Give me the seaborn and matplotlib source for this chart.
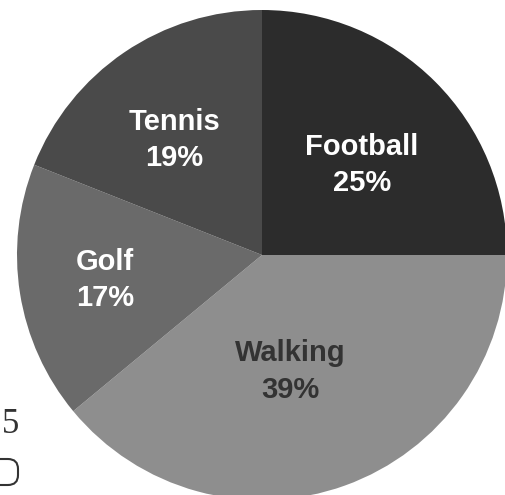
import numpy as np
import matplotlib
matplotlib.use("Agg")
import matplotlib.pyplot as plt
import seaborn as sns
from matplotlib.patches import FancyBboxPatch

# Data
sports = ["Football", "Walking", "Golf", "Tennis"]
shares = [25, 39, 17, 19]
colors = ["#2c2c2c", "#8e8e8e", "#6a6a6a", "#4a4a4a"]
text_colors = ["white", "#333333", "white", "white"]
label_radius = [0.55, 0.49, 0.65, 0.59]
label_shift = [-3, -6, 0, 3]  # degrees

sns.set_theme(style="white")
plt.rcParams["font.family"] = ["Liberation Sans", "DejaVu Sans"]

W, H = 506, 495
cx, cy, r = 262, 255, 245

fig = plt.figure(figsize=(W / 100, H / 100), dpi=100)
ax = fig.add_axes([0, 0, 1, 1])

wedges, _ = ax.pie(shares, colors=colors, startangle=90, counterclock=False,
                   radius=1, wedgeprops=dict(linewidth=0))

ax.set_xlim(-cx / r, (W - cx) / r)
ax.set_ylim(-(H - cy) / r, cy / r)
ax.set_aspect("equal", adjustable="datalim")
ax.axis("off")

for w, name, pct, tc, lr, sh in zip(wedges, sports, shares, text_colors,
                                    label_radius, label_shift):
    mid = np.deg2rad((w.theta1 + w.theta2) / 2 + sh)
    ax.text(lr * np.cos(mid), lr * np.sin(mid), f"{name}\n{pct}%",
            ha="center", va="center", color=tc, fontsize=21,
            fontweight="bold", linespacing=1.38)

# stray page marks from the scan
fig.text(2 / W, 1 - 433 / H, "5", family="Liberation Serif", fontsize=25,
         color="#333333", ha="left", va="baseline")
fig.patches.append(FancyBboxPatch((-30 / W, 1 - 485 / H), 48 / W, 26 / H,
                                  boxstyle="round,pad=0,rounding_size=0.02",
                                  transform=fig.transFigure, fill=False,
                                  edgecolor="#333333", linewidth=1.5))

fig.savefig("out.png", dpi=100, facecolor="white")
